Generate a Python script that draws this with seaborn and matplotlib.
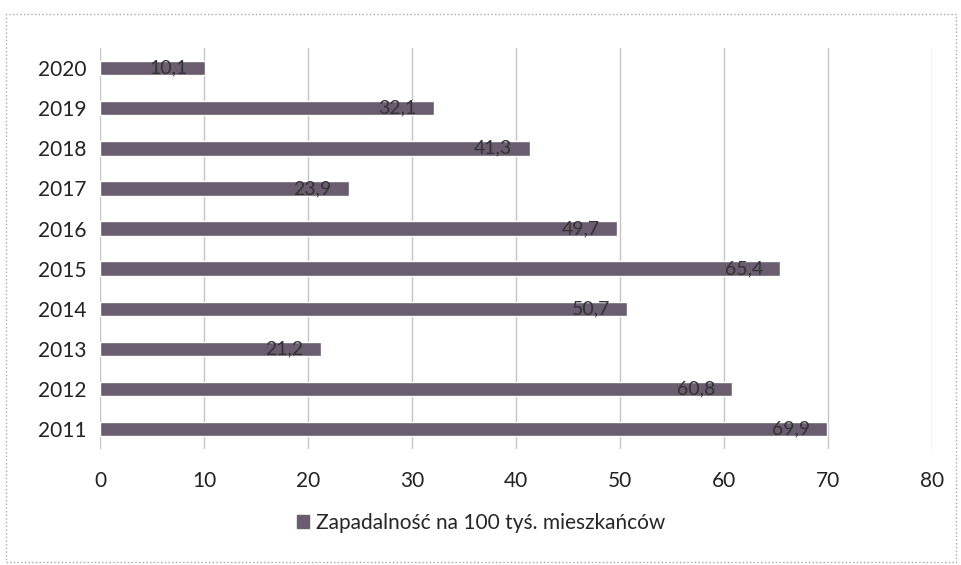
import matplotlib.pyplot as plt
import pandas as pd
import seaborn as sns

years = ['2020', '2019', '2018', '2017', '2016', '2015', '2014', '2013', '2012', '2011']
values = [10.1, 32.1, 41.3, 23.9, 49.7, 65.4, 50.7, 21.2, 60.8, 69.9]
series_name = 'Zapadalność na 100 tyś. mieszkańców'

sns.set_style('white')
plt.rcParams['font.family'] = ['Lato', 'DejaVu Sans']

df = pd.DataFrame({'rok': years, 'wartosc': values, 'seria': series_name})

fig = plt.figure(figsize=(9.62, 5.65), dpi=100)
ax = fig.add_axes([0.104, 0.205, 0.865, 0.71])

bar_color = '#6a5d6f'
sns.barplot(data=df, x='wartosc', y='rok', hue='seria', order=years,
            palette=[bar_color], width=0.36, ax=ax, legend=False, saturation=1)

ax.set_xlim(0, 80)
ax.set_xticks(range(0, 81, 10))
ax.grid(axis='x', color='#c4c4c4', linewidth=1)
ax.set_axisbelow(True)
for s in ax.spines.values():
    s.set_visible(False)
ax.set_xlabel('')
ax.set_ylabel('')
ax.tick_params(axis='x', labelsize=15, pad=16, length=0, colors='#222222')
ax.tick_params(axis='y', labelsize=15, pad=10, length=0, colors='#222222')

for cont in ax.containers:
    ax.bar_label(cont, labels=[f'{v:.1f}'.replace('.', ',') for v in values],
                 label_type='edge', padding=-40, fontsize=14, color='#333333')

handle = plt.Rectangle((0, 0), 1, 1, color=bar_color)
fig.legend([handle], [series_name], loc='center', bbox_to_anchor=(0.5, 0.075),
           frameon=False, fontsize=15, handlelength=0.6, handleheight=0.6,
           handletextpad=0.3)

border = plt.Rectangle((0.006, 0.006), 0.988, 0.97, transform=fig.transFigure,
                       fill=False, edgecolor='#aaaaaa', linestyle=':', linewidth=1)
fig.add_artist(border)

fig.savefig('out.png', dpi=100)
